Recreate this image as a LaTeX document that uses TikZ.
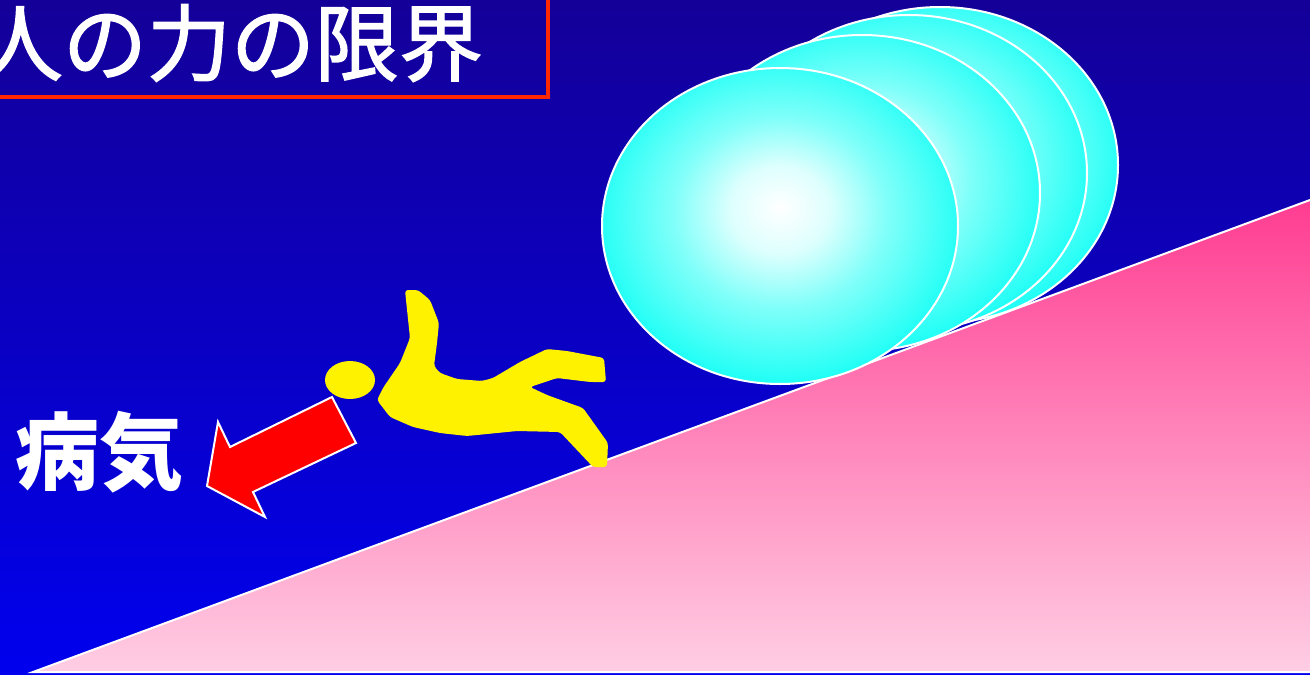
\documentclass[tikz,border=0pt]{standalone}
\usepackage{fontspec}
\newfontfamily\jpfont{Noto Sans CJK JP}
\newfontfamily\jptitle[FakeBold=1.6]{Noto Sans CJK JP}
\usetikzlibrary{calc}

\definecolor{skytop}{RGB}{20,0,152}
\definecolor{skybottom}{RGB}{0,0,238}
\definecolor{hilltop}{RGB}{255,60,145}
\definecolor{hillmid}{RGB}{255,145,192}
\definecolor{hillbottom}{RGB}{255,206,228}
\definecolor{ballcyan}{RGB}{25,255,245}
\definecolor{framered}{RGB}{255,40,0}

% soft white highlight on the boulders
\pgfdeclareradialshading{ballshade}{\pgfpoint{0bp}{3bp}}{
  color(0bp)=(white); color(7bp)=(white!85!ballcyan);
  color(15bp)=(white!45!ballcyan); color(27bp)=(ballcyan);
  color(50bp)=(ballcyan)}

\begin{document}
\begin{tikzpicture}
  [x=1pt,y=-1pt,
   boulder/.style={draw=white, line width=2pt, shading=ballshade},
   outline/.style={draw=white, line width=2pt, line join=miter},
   label/.style={text=white, inner sep=0pt}]

  \newcommand{\rx}{178pt}
  \newcommand{\ry}{158pt}

  \useasboundingbox (0,0) rectangle (1310,675);
  \shade[top color=skytop, bottom color=skybottom] (0,0) rectangle (1310,675);

    % the hill
    \coordinate (foot) at (33,672);
    \coordinate (peak) at (1310,200);
    \coordinate (corner) at (1310,672);

    \shade[top color=hilltop, middle color=hillmid, bottom color=hillbottom]
      (foot) -- (peak) -- (corner) -- cycle;
    \draw[white, line width=2pt] (corner) -- (foot) -- (peak);

    % boulders, back one first
    \coordinate (b4) at (940,165);
    \coordinate (b3) at (909,173);
    \coordinate (b2) at (862,193);
    \coordinate (b1) at (780,226);

    \foreach \b in {b4,b3,b2,b1}
      \shade[boulder] (\b) ellipse [x radius=\rx, y radius=\ry];

    % the falling man
    \coordinate (head) at (350,380);
    \fill[yellow] (head) ellipse [x radius=25pt, y radius=19pt];
    \fill[yellow, rounded corners=3pt]
      (405,290) -- (418,290) -- (430,300) -- (439,323) -- (437,343) -- (434,366)
      -- (440,373) -- (457,379) -- (482,381) -- (493,378) -- (520,362) -- (547,349)
      -- (567,351) -- (604,358) -- (606,382) -- (590,382) -- (557,378) -- (530,387)
      -- (547,395) -- (583,408) -- (608,443) -- (607,467) -- (593,467) -- (560,432)
      -- (517,431) -- (467,436) -- (440,433) -- (413,427) -- (390,417) -- (377,400)
      -- (383,388) -- (400,363) -- (410,338) -- (406,300) -- cycle;

    % arrow towards the illness
    \draw[outline, fill=red] (332,397) -- (356,443) -- (253,492) -- (265,517)
      -- (207,486) -- (218,422) -- (230,447) -- cycle;

    \node[label, font=\jpfont\bfseries\fontsize{84}{84}\selectfont] (illness) at (100,452) {病気};

    % title
    \draw[framered, line width=4.5pt] (-20,-20) rectangle (548,97);
    \node[label, font=\jptitle\fontsize{84}{84}\selectfont] (title) at (231,43) {人の力の限界};

\end{tikzpicture}
\end{document}
